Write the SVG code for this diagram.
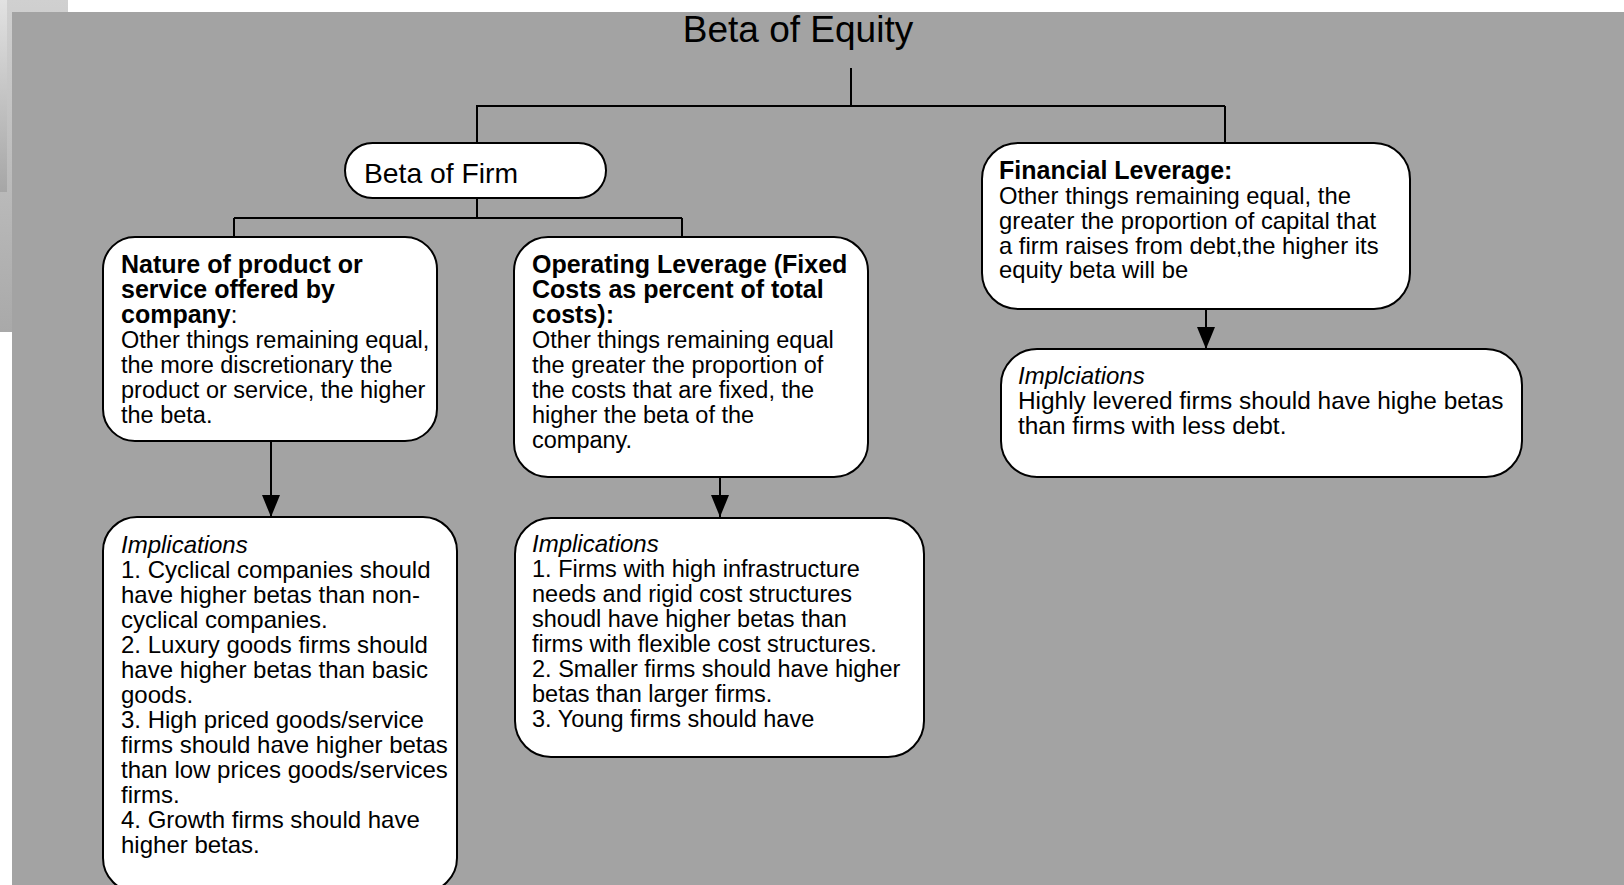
<svg xmlns="http://www.w3.org/2000/svg" width="1624" height="885" viewBox="0 0 1624 885">
<defs>
<linearGradient id="g1" x1="0" y1="0" x2="0" y2="1"><stop offset="0" stop-color="#d0d0d0"/><stop offset="1" stop-color="#a9a9a9"/></linearGradient>
<linearGradient id="g2" x1="0" y1="0" x2="0" y2="1"><stop offset="0" stop-color="#e2e2e2"/><stop offset="1" stop-color="#a6a6a6"/></linearGradient>
<marker id="arr" viewBox="0 0 22 18" refX="22" refY="9" markerWidth="22" markerHeight="18" markerUnits="userSpaceOnUse" orient="auto"><path d="M0,0 L22,9 L0,18 z" fill="#000"/></marker>
<style>
text{font-family:"Liberation Sans",Arial,Helvetica,sans-serif;fill:#000;font-size:24px}
.box{fill:#fff;stroke:#000;stroke-width:2}
.c{fill:none;stroke:#000;stroke-width:2}
.b{font-weight:bold;font-size:25px}
.i{font-style:italic}
.s{font-size:23.5px}
</style>
</defs>
<rect x="0" y="0" width="1624" height="885" fill="#fff"/>
<rect x="0" y="0" width="68" height="332" fill="url(#g1)"/>
<rect x="0" y="0" width="7" height="192" fill="url(#g2)"/>
<rect x="12" y="12" width="1612" height="873" fill="#a3a3a3"/>

<g id="title"><text x="798" y="42" text-anchor="middle" style="font-size:37px">Beta of Equity</text></g>

<g id="connectors">
<path class="c" d="M851,68 V106 M476,106 H1225 M477,106 V143 M1225,106 V143"/>
<path class="c" d="M477,198 V218 M234,218 H682 M234,218 V237 M682,218 V237"/>
<path class="c" d="M271,441 V517" marker-end="url(#arr)"/>
<path class="c" d="M720,477 V517" marker-end="url(#arr)"/>
<path class="c" d="M1206,309 V349" marker-end="url(#arr)"/>
</g>

<g id="betaFirm">
<rect class="box" x="345" y="143" width="261" height="55" rx="27.5"/>
<text x="364" y="183" style="font-size:28.3px">Beta of Firm</text>
</g>

<g id="nature">
<rect class="box" x="103" y="237" width="334" height="204" rx="32"/>
<text x="121" y="273" class="b">Nature of product or</text>
<text x="121" y="298" class="b">service offered by</text>
<text x="121" y="323"><tspan class="b">company</tspan>:</text>
<text x="121" y="348" class="s">Other things remaining equal,</text>
<text x="121" y="373" class="s">the more discretionary the</text>
<text x="121" y="398" class="s">product or service, the higher</text>
<text x="121" y="423" class="s">the beta.</text>
</g>

<g id="operating">
<rect class="box" x="514" y="237" width="354" height="240" rx="34"/>
<text x="532" y="273" class="b">Operating Leverage (Fixed</text>
<text x="532" y="298" class="b">Costs as percent of total</text>
<text x="532" y="323" class="b">costs):</text>
<text x="532" y="348" class="s">Other things remaining equal</text>
<text x="532" y="373" class="s">the greater the proportion of</text>
<text x="532" y="398" class="s">the costs that are fixed, the</text>
<text x="532" y="423" class="s">higher the beta of the</text>
<text x="532" y="448" class="s">company.</text>
</g>

<g id="financial">
<rect class="box" x="982" y="143" width="428" height="166" rx="36"/>
<text x="999" y="179" class="b">Financial Leverage:</text>
<text x="999" y="204" style="font-size:23.8px">Other things remaining equal, the</text>
<text x="999" y="229" style="font-size:23.8px">greater the proportion of capital that</text>
<text x="999" y="254" style="font-size:23.8px">a firm raises from debt,the higher its</text>
<text x="999" y="278" style="font-size:23.8px">equity beta will be</text>
</g>

<g id="impl1">
<rect class="box" x="103" y="517" width="354" height="375" rx="34"/>
<text x="121" y="553" class="i">Implications</text>
<text x="121" y="578">1. Cyclical companies should</text>
<text x="121" y="603">have higher betas than non-</text>
<text x="121" y="628">cyclical companies.</text>
<text x="121" y="653">2. Luxury goods firms should</text>
<text x="121" y="678">have higher betas than basic</text>
<text x="121" y="703">goods.</text>
<text x="121" y="728">3. High priced goods/service</text>
<text x="121" y="753">firms should have higher betas</text>
<text x="121" y="778">than low prices goods/services</text>
<text x="121" y="803">firms.</text>
<text x="121" y="828">4. Growth firms should have</text>
<text x="121" y="853">higher betas.</text>
</g>

<g id="impl2">
<rect class="box" x="515" y="518" width="409" height="239" rx="36"/>
<text x="532" y="552" class="i">Implications</text>
<text x="532" y="577" class="s">1. Firms with high infrastructure</text>
<text x="532" y="602" class="s">needs and rigid cost structures</text>
<text x="532" y="627" class="s">shoudl have higher betas than</text>
<text x="532" y="652" class="s">firms with flexible cost structures.</text>
<text x="532" y="677" class="s">2. Smaller firms should have higher</text>
<text x="532" y="702" class="s">betas than larger firms.</text>
<text x="532" y="727" class="s">3. Young firms should have</text>
</g>

<g id="impl3">
<rect class="box" x="1001" y="349" width="521" height="128" rx="36"/>
<text x="1018" y="384" class="i">Implciations</text>
<text x="1018" y="409" style="font-size:24.4px">Highly levered firms should have highe betas</text>
<text x="1018" y="434" style="font-size:24.4px">than firms with less debt.</text>
</g>
</svg>
